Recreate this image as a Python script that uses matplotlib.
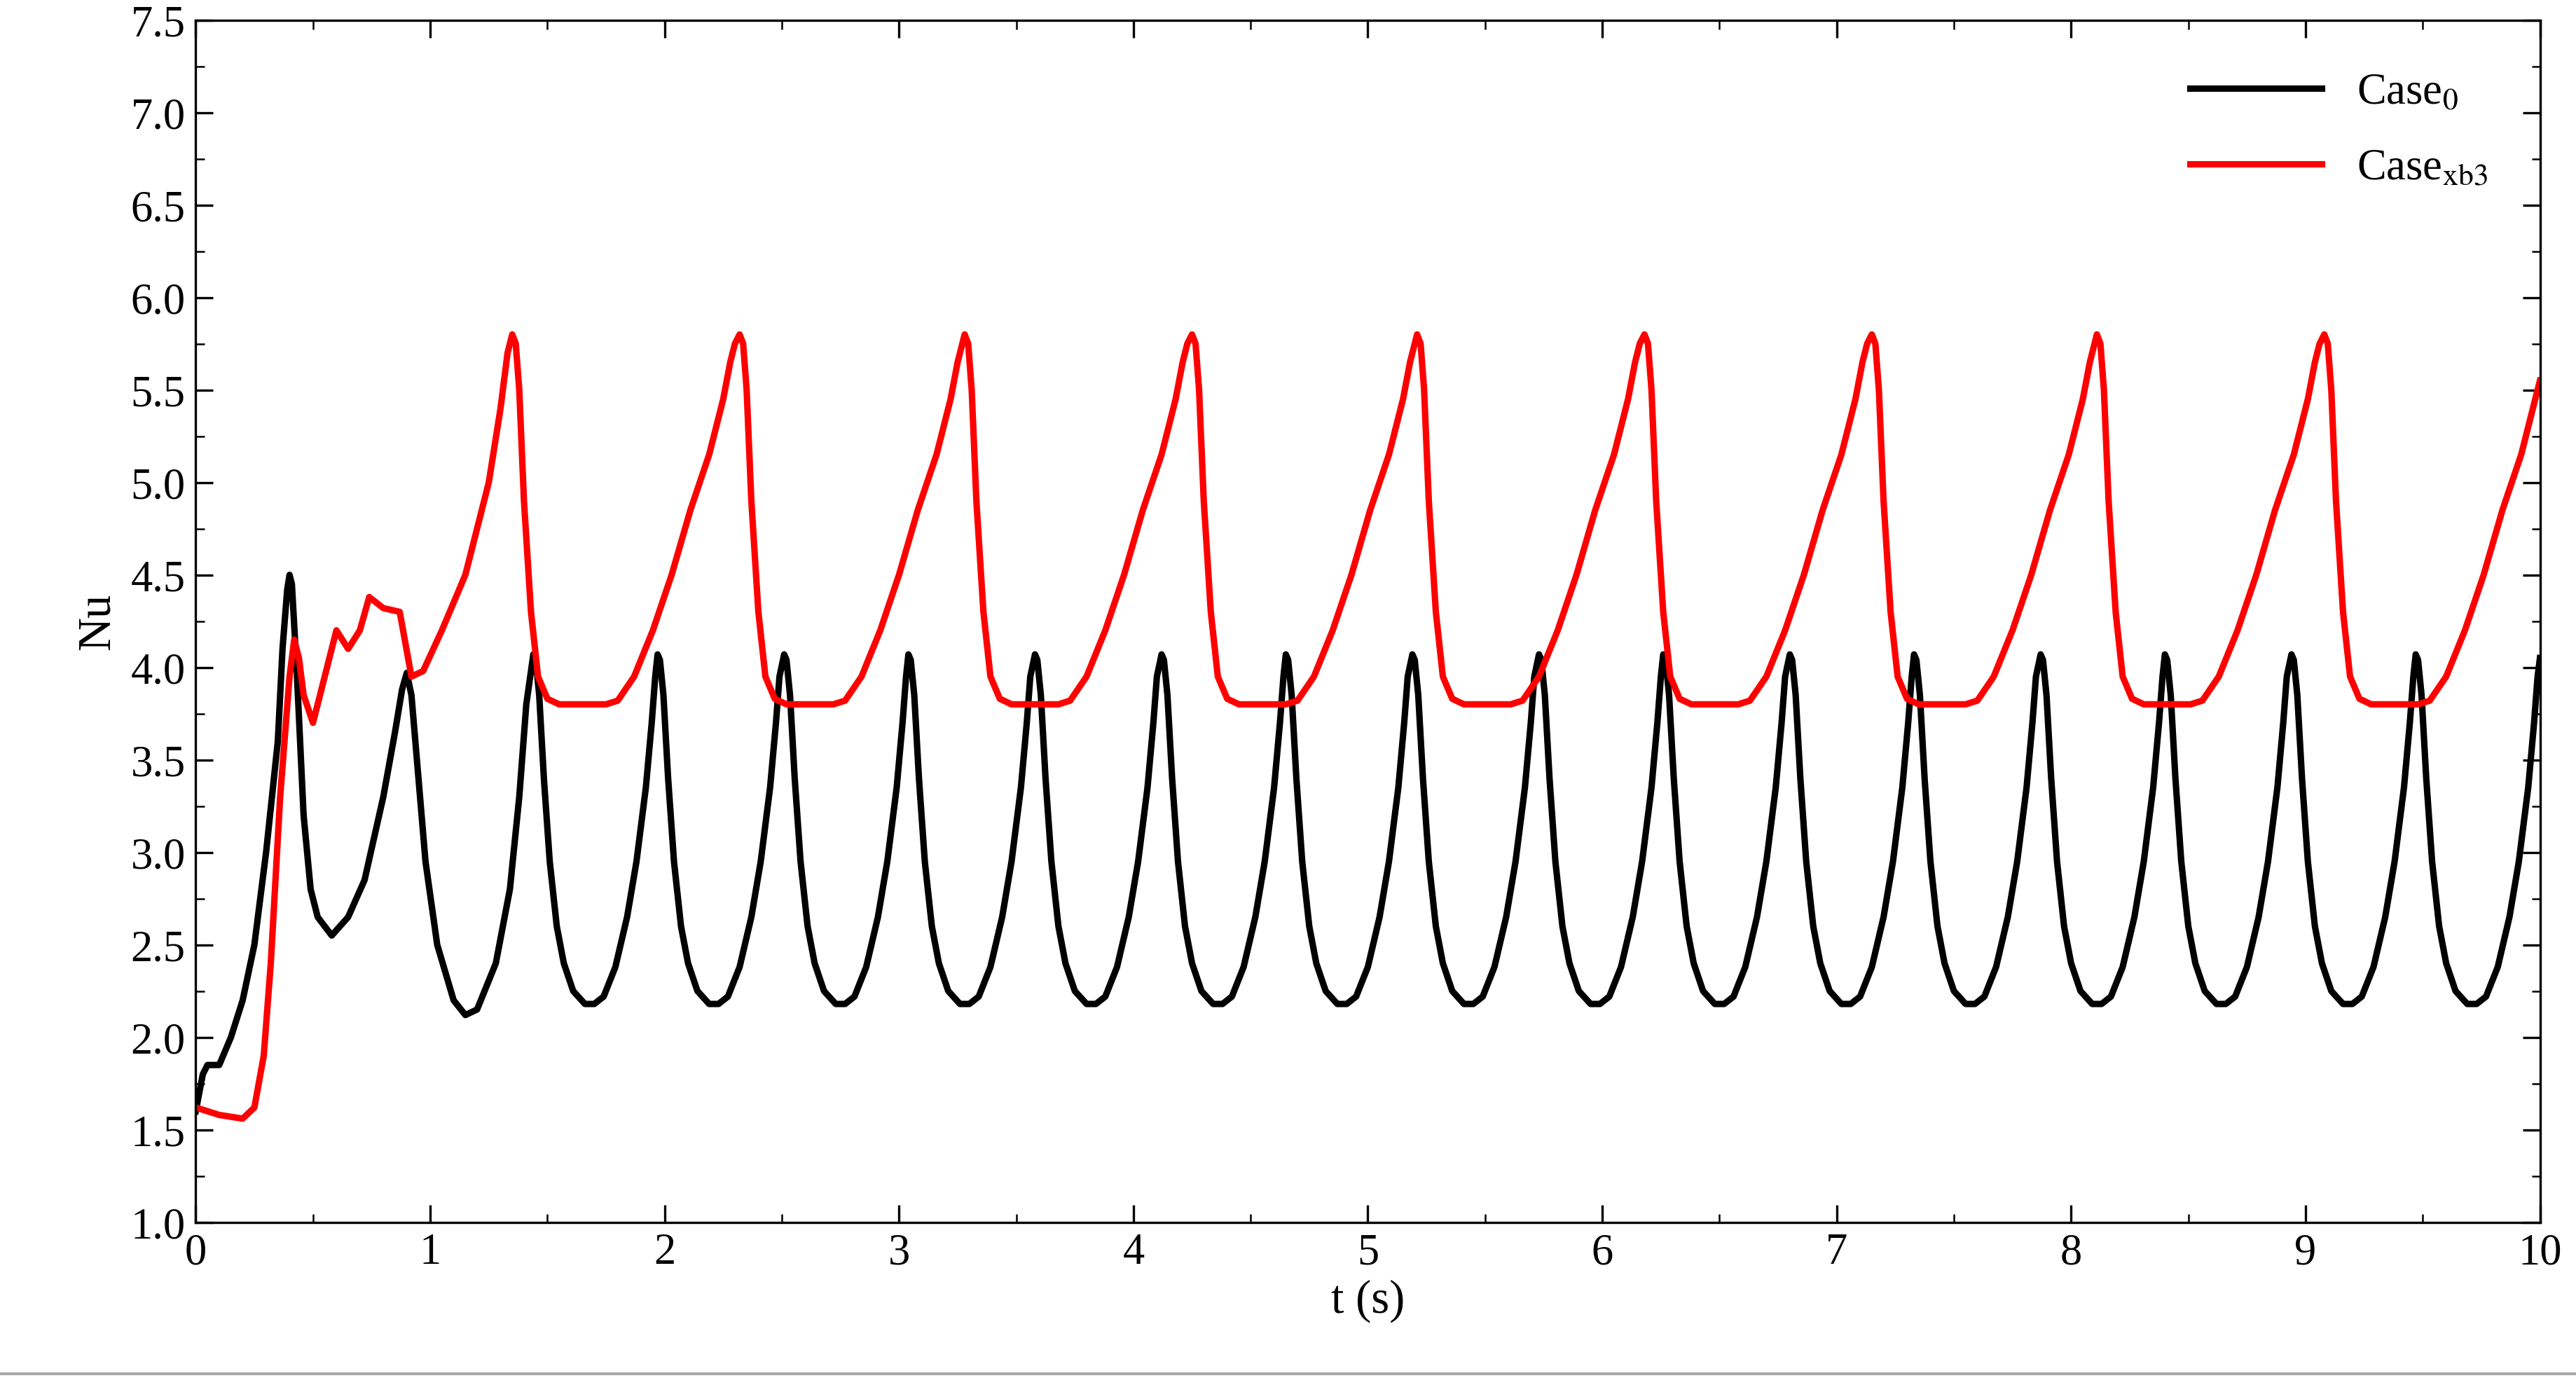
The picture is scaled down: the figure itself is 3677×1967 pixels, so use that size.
import numpy as np
import matplotlib
matplotlib.use("Agg")
import matplotlib.pyplot as plt
from matplotlib.ticker import MultipleLocator

# Case_0 start-up transient (t, Nu)
b0_t = [0,0.03,0.05,0.1,0.15,0.2,0.25,0.3,0.35,0.37,0.39,0.40,0.41,0.43,0.46,0.49,0.52,0.58,0.65,0.72,0.8,0.85,0.88,0.90,0.92,0.95,0.98,1.03,1.1,1.15,1.2,1.28,1.34,1.38,1.41]
b0_nu = [1.6,1.8,1.85,1.85,2.0,2.2,2.5,3.0,3.6,4.1,4.42,4.5,4.45,4.0,3.2,2.8,2.65,2.55,2.65,2.85,3.3,3.65,3.88,3.97,3.85,3.4,2.95,2.5,2.2,2.12,2.15,2.4,2.8,3.3,3.8]
# Case_0 periodic peaks and one-cycle shape (offset from peak, Nu)
b_peaks = [1.44,1.97,2.51,3.04,3.58,4.12,4.65,5.19,5.73,6.26,6.80,7.33,7.87,8.40,8.94,9.47]
b_dt = [0,0.01,0.025,0.045,0.07,0.1,0.13,0.17,0.22,0.26,0.30,0.35,0.40,0.44,0.48,0.505,0.52]
b_nu = [4.07,4.04,3.85,3.4,2.95,2.6,2.4,2.25,2.18,2.18,2.22,2.38,2.65,2.95,3.35,3.7,3.95]

# Case_xb3 start-up transient
r0_t = [0,0.1,0.2,0.25,0.29,0.32,0.36,0.40,0.42,0.44,0.46,0.5,0.55,0.6,0.65,0.7,0.74,0.8,0.87,0.92,0.97,1.05,1.15,1.25,1.3,1.33]
r0_nu = [1.62,1.58,1.56,1.62,1.9,2.4,3.3,3.95,4.15,4.05,3.85,3.7,3.95,4.2,4.1,4.2,4.38,4.32,4.3,3.95,3.98,4.2,4.5,5.0,5.4,5.7]
r_peaks = [1.35,2.32,3.28,4.25,5.21,6.18,7.15,8.11,9.08]
r_dt = [0,0.015,0.03,0.05,0.08,0.11,0.15,0.2,0.3,0.4,0.45,0.52,0.6,0.68,0.76,0.84,0.9,0.93,0.95]
r_nu = [5.8,5.75,5.5,4.9,4.3,3.95,3.83,3.8,3.8,3.8,3.82,3.95,4.2,4.5,4.85,5.15,5.45,5.65,5.75]

def build(t0, y0, peaks, dt, nu, tend, yend):
    t = list(t0); y = list(y0)
    for p in peaks:
        for d, v in zip(dt, nu):
            if p + d < tend:
                t.append(p + d); y.append(v)
    t.append(tend); y.append(yend)
    return np.array(t), np.array(y)

bt, by = build(b0_t, b0_nu, b_peaks, b_dt, b_nu, 10.0, 4.05)
rt, ry = build(r0_t, r0_nu, r_peaks, r_dt, r_nu, 10.0, 5.55)

plt.rcParams['font.family'] = ['Liberation Serif', 'DejaVu Serif']
plt.rcParams['mathtext.fontset'] = 'stix'
fig = plt.figure(figsize=(3677/300, 1968/300), dpi=300)
ax = fig.add_axes([0.076, 0.113, 0.91, 0.872])
ax.plot(bt, by, color='black', lw=2.2, label=r'Case$_0$')
ax.plot(rt, ry, color='red', lw=2.2, label=r'Case$_{\rm xb3}$')
ax.set_xlim(0, 10); ax.set_ylim(1.0, 7.5)
ax.xaxis.set_major_locator(MultipleLocator(1))
ax.xaxis.set_minor_locator(MultipleLocator(0.5))
ax.yaxis.set_major_locator(MultipleLocator(0.5))
ax.yaxis.set_minor_locator(MultipleLocator(0.25))
ax.yaxis.set_major_formatter(matplotlib.ticker.FormatStrFormatter('%.1f'))
ax.tick_params(which='both', direction='in', top=True, right=True, labelsize=15)
ax.tick_params(which='major', length=6)
ax.tick_params(which='minor', length=3)
ax.set_xlabel('t (s)', fontsize=16, labelpad=2)
ax.set_ylabel('Nu', fontsize=16)
ax.legend(loc='upper right', frameon=False, fontsize=15, handlelength=3, borderaxespad=0.8, labelspacing=0.8)
fig.add_artist(plt.Line2D([0, 1], [0.003, 0.003], color='#aaaaaa', lw=1, transform=fig.transFigure))
fig.savefig('out.png', dpi=300, facecolor='white')
